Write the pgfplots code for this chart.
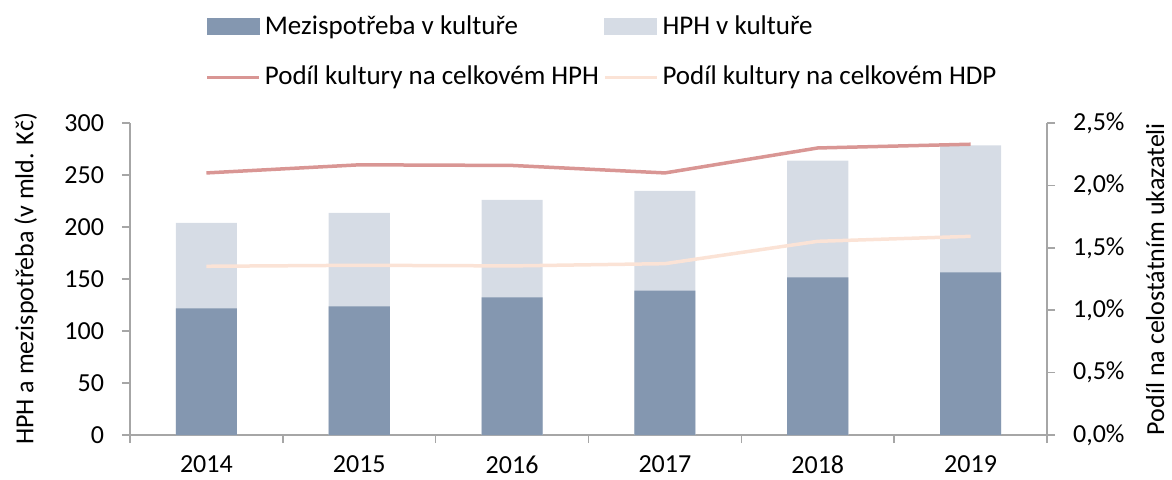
\documentclass[border=0pt]{standalone}
\usepackage{fontspec}
\setmainfont{Carlito}
\usepackage{pgfplots}
\pgfplotsset{compat=1.18}

\definecolor{mezi}{HTML}{8497B0}
\definecolor{hph}{HTML}{D6DCE5}
\definecolor{podilhph}{HTML}{D99694}
\definecolor{podilhdp}{HTML}{FBE3D6}
\definecolor{osa}{HTML}{A6A6A6}

\pgfplotsset{
  spolecne/.style={
    scale only axis, width=458.5pt, height=156pt,
    xmin=0.5, xmax=6.5,
    axis line style={-, osa, line width=0.8pt},
    tick style={osa, line width=0.8pt},
    tick align=outside,
    major tick length=4pt, minor tick length=4pt,
    every tick label/.append style={font=\fontsize{13}{15}\selectfont, text=black},
    /pgf/number format/assume math mode=true,
    label style={font=\fontsize{13.5}{15}\selectfont},
  },
}

\begin{document}
\fontsize{13}{15}\selectfont
\begin{tikzpicture}
% sloupce: HPH (svetle) a mezispotreba (tmave) pres sebe
\begin{axis}[spolecne,
  axis x line*=bottom, axis y line*=left,
  ymin=0, ymax=300, ytick={0,50,...,300},
  xtick={1,...,6},
  xticklabels={2014,2015,2016,2017,2018,2019},
  major x tick style={draw=none},
  minor xtick={0.5,1.5,...,6.5},
  xticklabel style={yshift=-2pt},
  yticklabel style={xshift=-4.5pt},
  ylabel={HPH a mezispotřeba (v mld. Kč)},
  every axis y label/.style={at={(axis description cs:-0.1135,0.5)}, anchor=center, rotate=90},
  ybar, bar width=0.4, bar shift=0pt,
]
\addplot[fill=hph, draw=none] coordinates {(1,204) (2,213.6) (3,226) (4,234.8) (5,263.8) (6,278.5)};
\addplot[fill=mezi, draw=none] coordinates {(1,121.8) (2,123.8) (3,132.4) (4,138.8) (5,151.6) (6,156.4)};
\end{axis}

% podily v procentech na prave ose
\begin{axis}[spolecne,
  axis x line=none, axis y line*=right,
  xtick=\empty,
  ymin=0, ymax=2.5, ytick={0,0.5,...,2.5},
  yticklabel={\pgfmathprintnumber[fixed,fixed zerofill,precision=1,use comma]{\tick}\%},
  yticklabel style={xshift=4.5pt},
  ylabel={Podíl na celostátním ukazateli},
  every axis y label/.style={at={(axis description cs:1.118,0.5)}, anchor=center, rotate=90},
  legend columns=2,
  legend style={at={(axis description cs:0,1)}, anchor=south west,
    xshift=34.5pt, yshift=13pt, draw=none, fill=none,
    font=\fontsize{13.5}{15}\selectfont,
    row sep=10pt,
    /tikz/every even column/.append style={column sep=0pt}},
  legend cell align=left,
]
\addlegendimage{legend image code/.code={\fill[mezi] (0pt,-4pt) rectangle (26pt,4pt);}}
\addlegendentry{Mezispotřeba v kultuře}
\addlegendimage{legend image code/.code={\fill[hph] (0pt,-4pt) rectangle (26pt,4pt);}}
\addlegendentry{HPH v kultuře}
\addplot[podilhph, line width=1.75pt,
  legend image code/.code={\draw[podilhph, line width=1.75pt] (0pt,0pt) -- (26pt,0pt);}]
  coordinates {(1,2.10) (2,2.165) (3,2.16) (4,2.10) (5,2.30) (6,2.33)};
\addlegendentry{Podíl kultury na celkovém HPH}
\addplot[podilhdp, line width=1.75pt,
  legend image code/.code={\draw[podilhdp, line width=1.75pt] (0pt,0pt) -- (26pt,0pt);}]
  coordinates {(1,1.352) (2,1.36) (3,1.355) (4,1.373) (5,1.552) (6,1.592)};
\addlegendentry{Podíl kultury na celkovém HDP}
\end{axis}
\pgfresetboundingbox
\path[use as bounding box] (-65pt,-22pt) rectangle (521pt,217.5pt);
\end{tikzpicture}
\end{document}
